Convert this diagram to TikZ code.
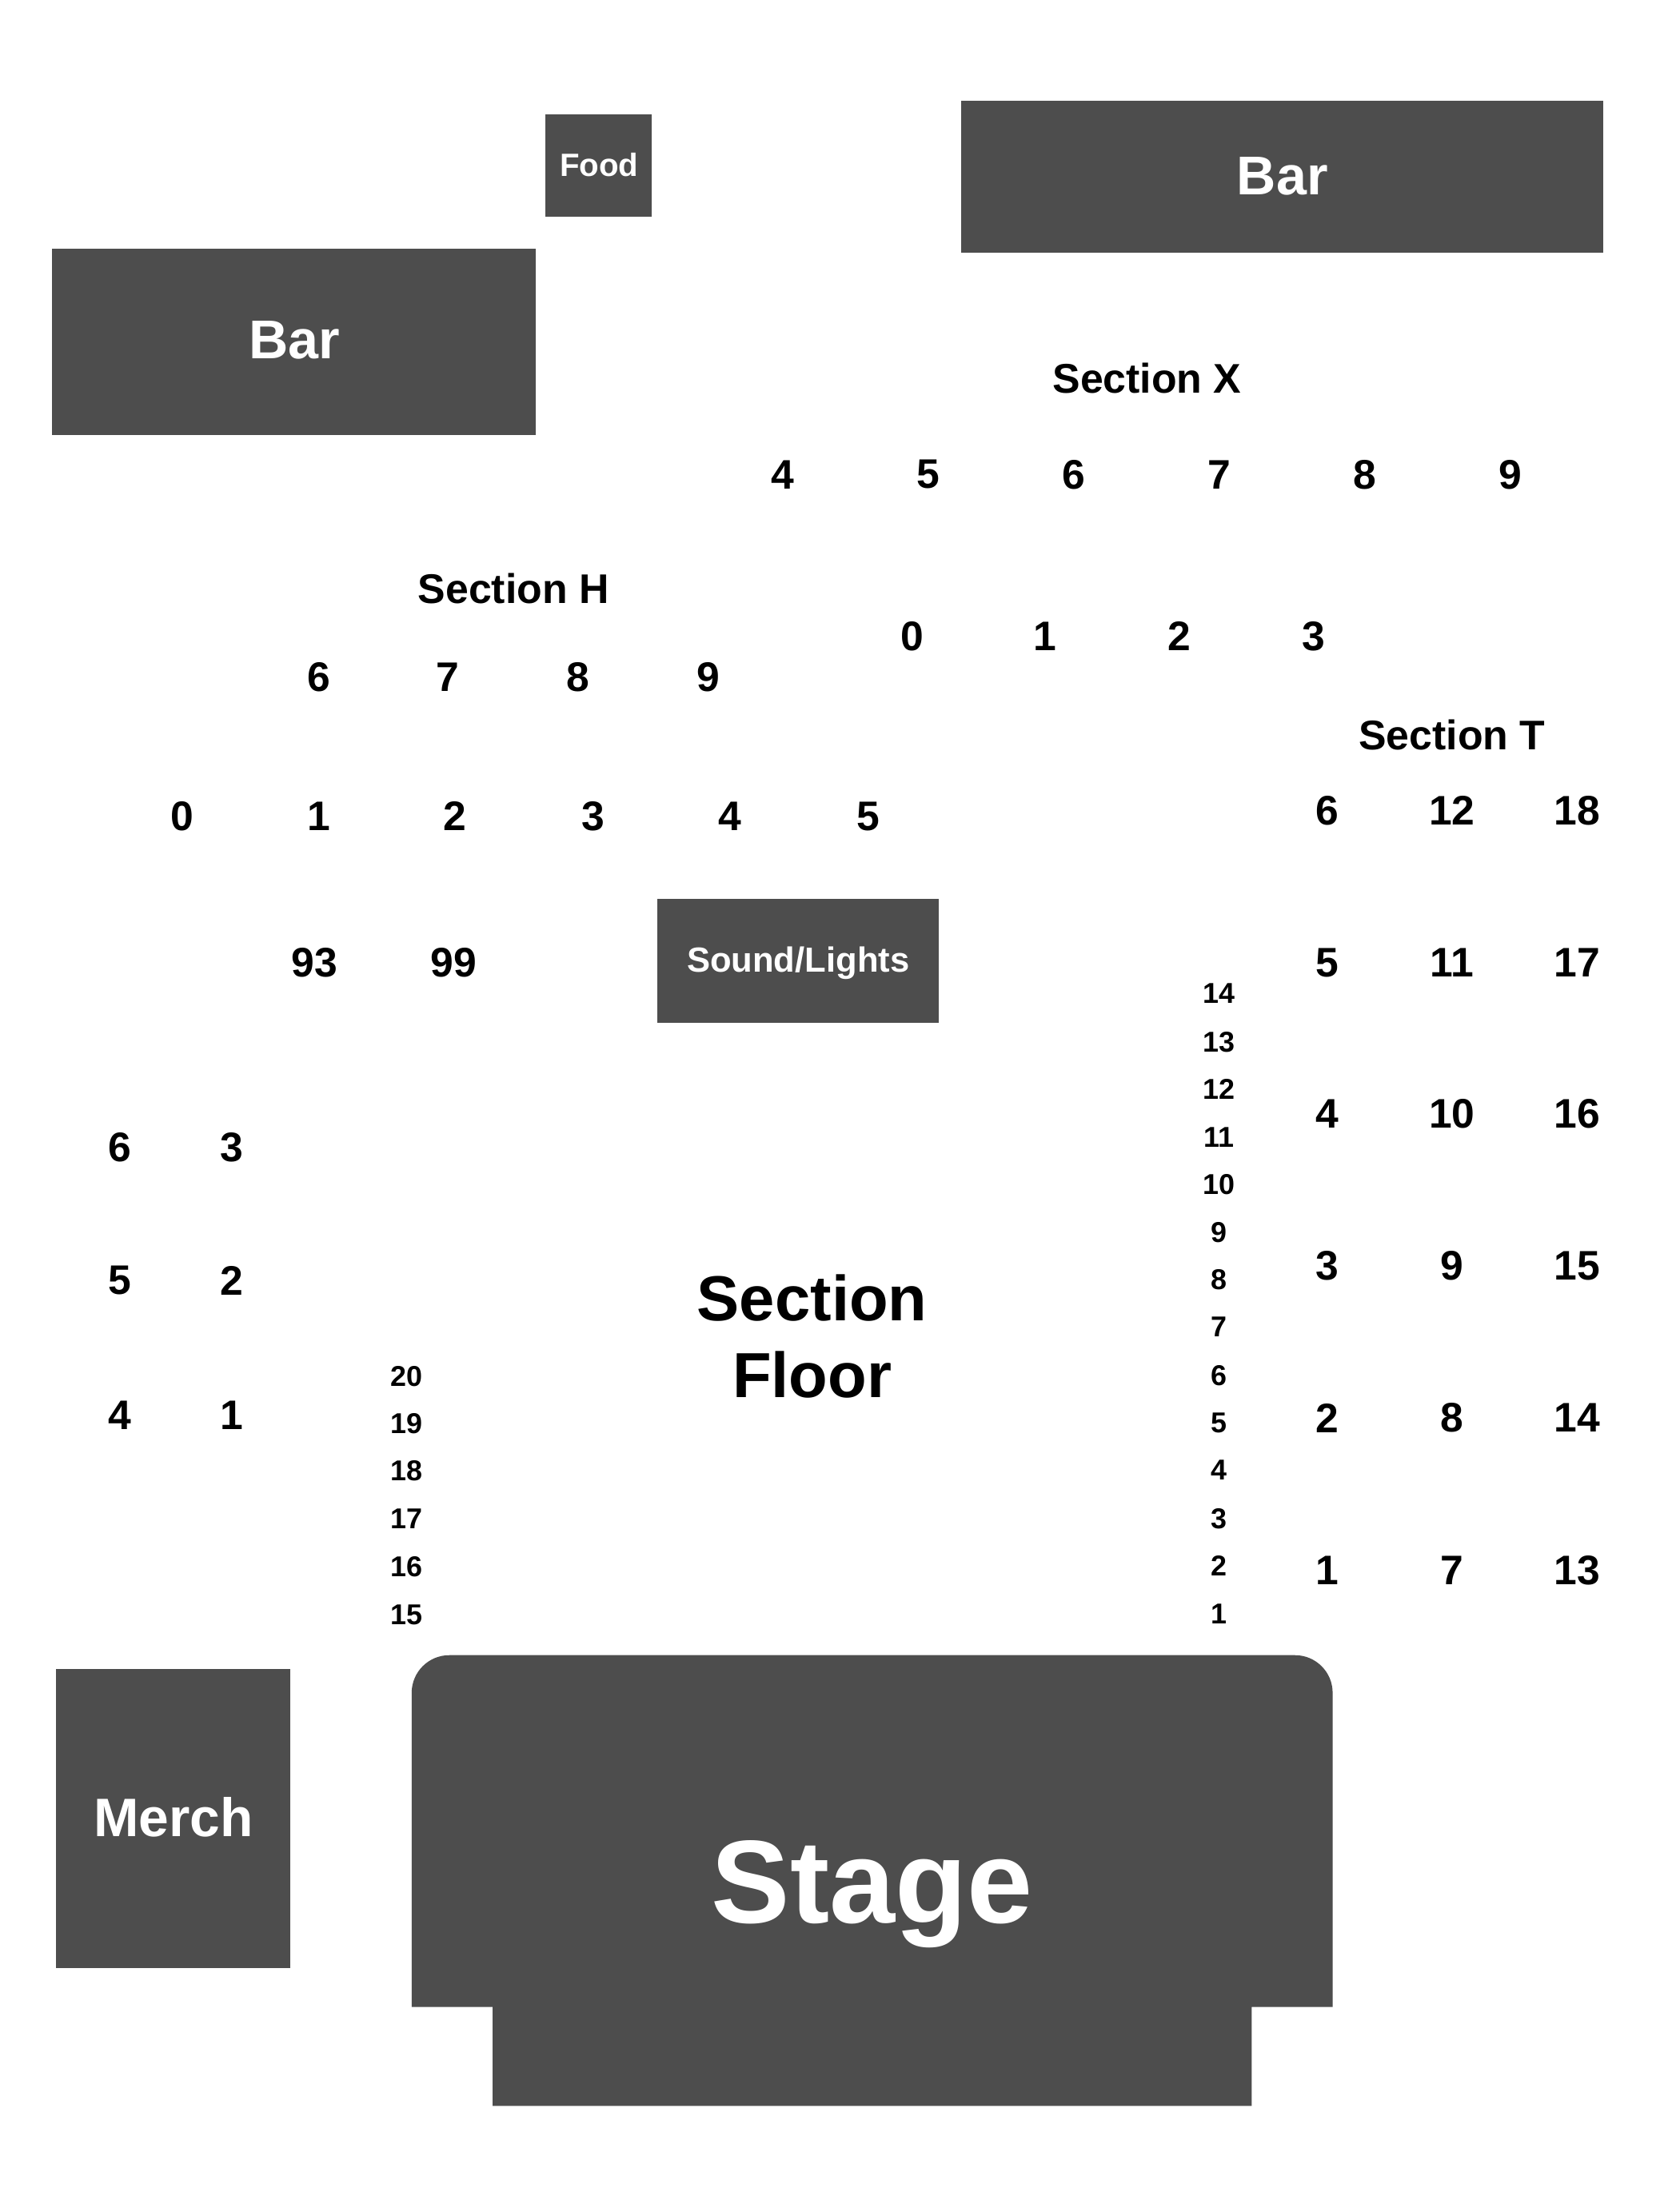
\documentclass[tikz,border=0pt]{standalone}
\usepackage{fontspec}
\setmainfont{Liberation Sans}[BoldFont={Liberation Sans Bold}]
\definecolor{blockgrey}{HTML}{4D4D4D}
\newcommand{\fs}[1]{\fontsize{#1}{#1}\selectfont\bfseries}
\tikzset{
  x=0.9972pt,y=-0.9972pt,
  blocklabel/.style={inner sep=0pt,text=white},
  seat/.style={inner sep=0pt,text=black,font=\fs{29.5}},
  smallseat/.style={inner sep=0pt,text=black,font=\fs{20.5}},
  sectlabel/.style={inner sep=0pt,text=black,font=\fs{29.6}},
  floorlabel/.style={inner sep=0pt,text=black,font=\fs{45.5}},
}
\begin{document}
\begin{tikzpicture}
\useasboundingbox (0,0) rectangle (1203.37,1567.8);
\fill[white] (0,0) rectangle (1203.37,1567.8);
% blocks
\fill[blockgrey] (391,82) rectangle (467,155);
\node[blocklabel,font=\fs{23}] (food) at (429.3,118) {Food};
\fill[blockgrey] (688.5,72) rectangle (1149,181);
\node[blocklabel,font=\fs{39}] (barr) at (919,126) {Bar};
\fill[blockgrey] (37,178) rectangle (384,312);
\node[blocklabel,font=\fs{39}] (barl) at (211,243.5) {Bar};
\fill[blockgrey] (471,644) rectangle (673,733);
\node[blocklabel,font=\fs{24.9}] (sound) at (572,690.3) {Sound/Lights};
\fill[blockgrey] (40,1196) rectangle (208,1410);
\node[blocklabel,font=\fs{38.7}] (merch) at (124.3,1302) {Merch};
\fill[blockgrey] (295,1438) -- (295,1213) arc[start angle=180,end angle=270,radius=27] -- (928,1186) arc[start angle=270,end angle=360,radius=27] -- (955,1438) -- (897,1438) -- (897,1509) -- (353,1509) -- (353,1438) -- cycle;
\node[blocklabel,font=\fs{84.3}] (stage) at (625,1357.5) {Stage};
% section labels
\node[sectlabel] (sx) at (822,271) {Section X};
\node[sectlabel] (sh) at (368,422) {Section H};
\node[sectlabel] (st) at (1040.5,526.5) {Section T};
\node[floorlabel] (sf1) at (582,930) {Section};
\node[floorlabel] (sf2) at (582,985) {Floor};
% seats
\foreach \lab/\px/\py [count=\i] in {4/561/340,5/665.3/340,6/769.5/340,7/873.5/340,8/978/340,9/1082.5/340,
 0/653.5/456,1/749/456,2/845/456,3/941.5/456,
 6/228.7/485,7/321/485,8/414/485,9/507.5/485,
 0/130.5/585,1/228.3/585,2/326/585,3/425/585,4/523/585,5/622/585,
 93/225.3/689.5,99/325.3/689.5,
 6/85.8/822,3/166/822,5/85.8/917.5,2/166/917.5,4/85.8/1014,1/166/1014,
 6/951/581,12/1040.5/581,18/1130/581,
 5/951/690,11/1040.5/690,17/1130/690,
 4/951/798,10/1040.5/798,16/1130/798,
 3/951/907,9/1040.5/907,15/1130/907,
 2/951/1016,8/1040.5/1016,14/1130/1016,
 1/951/1125,7/1040.5/1125,13/1130/1125}
  \node[seat] (seat\i) at (\px,\py) {\lab};
\foreach \lab/\py [count=\i] in {14/712,13/746.5,12/780.5,11/815,10/849,9/883,8/917,7/951,6/985.5,5/1019.5,4/1053.5,3/1088,2/1122,1/1156.5}
  \node[smallseat] (fr\i) at (873.3,\py) {\lab};
\foreach \lab/\py [count=\i] in {20/986,19/1020,18/1054,17/1088.5,16/1122.5,15/1157}
  \node[smallseat] (fl\i) at (291.5,\py) {\lab};
\end{tikzpicture}
\end{document}
